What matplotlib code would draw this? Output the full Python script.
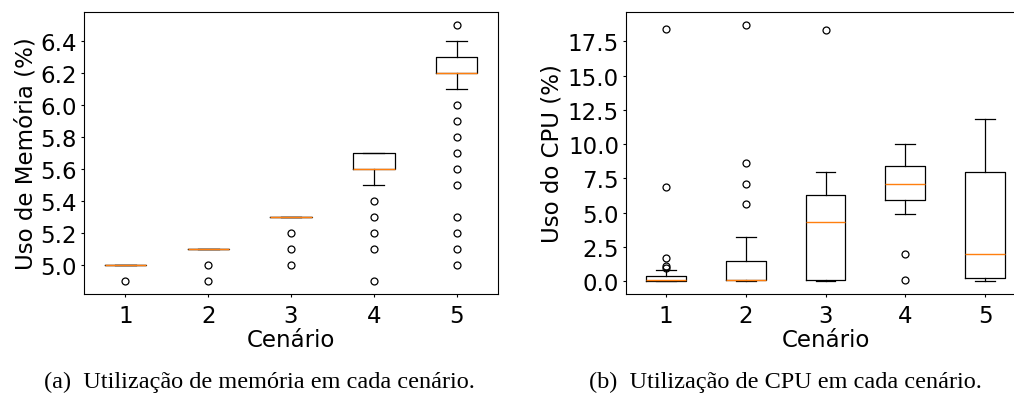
import matplotlib.pyplot as plt

# Cenarios
cenarios = ['1', '2', '3', '4', '5']

# Uso de memoria (%) - estatisticas das caixas
mem_q1 = [5.0, 5.1, 5.3, 5.6, 6.2]
mem_med = [5.0, 5.1, 5.3, 5.6, 6.2]
mem_q3 = [5.0, 5.1, 5.3, 5.7, 6.3]
mem_whislo = [5.0, 5.1, 5.3, 5.5, 6.1]
mem_whishi = [5.0, 5.1, 5.3, 5.7, 6.4]
mem_fliers = [
    [4.9],
    [5.0, 4.9],
    [5.2, 5.1, 5.0],
    [5.4, 5.3, 5.2, 5.1, 4.9],
    [6.5, 6.0, 5.9, 5.8, 5.7, 5.6, 5.5, 5.3, 5.2, 5.1, 5.0],
]

# Uso de CPU (%)
cpu_q1 = [0.0, 0.05, 0.1, 5.9, 0.2]
cpu_med = [0.1, 0.1, 4.3, 7.1, 2.0]
cpu_q3 = [0.35, 1.5, 6.3, 8.4, 8.0]
cpu_whislo = [0.0, 0.0, 0.0, 4.9, 0.0]
cpu_whishi = [0.8, 3.2, 8.0, 10.0, 11.8]
cpu_fliers = [
    [18.4, 6.9, 1.7, 1.1, 0.95],
    [18.7, 8.6, 7.1, 5.6],
    [18.3],
    [2.0, 0.1],
    [],
]


def stats(q1, med, q3, lo, hi, fl):
    return [dict(q1=a, med=b, q3=c, whislo=d, whishi=e, fliers=f, label=l)
            for a, b, c, d, e, f, l in zip(q1, med, q3, lo, hi, fl, cenarios)]


plt.rcParams['font.size'] = 16.5
plt.rcParams['axes.linewidth'] = 0.8

fig = plt.figure(figsize=(10.14, 4.10), dpi=100)
ax1 = fig.add_axes([84 / 1014, 1 - 295 / 410, 414 / 1014, 282 / 410])
ax2 = fig.add_axes([626 / 1014, 1 - 295 / 410, 399 / 1014, 282 / 410])

estilo = dict(
    boxprops=dict(linewidth=0.9),
    whiskerprops=dict(linewidth=0.9),
    capprops=dict(linewidth=0.9),
    medianprops=dict(linewidth=1.0, color='C1'),
    flierprops=dict(marker='o', markersize=5, markerfacecolor='none',
                    markeredgewidth=0.9),
)

ax1.bxp(stats(mem_q1, mem_med, mem_q3, mem_whislo, mem_whishi, mem_fliers),
        **estilo)
ax2.bxp(stats(cpu_q1, cpu_med, cpu_q3, cpu_whislo, cpu_whishi, cpu_fliers),
        **estilo)

for ax in (ax1, ax2):
    ax.set_xlabel('Cenário', labelpad=1)
    ax.tick_params(length=2.5, width=0.8, pad=2.5)
    ax.tick_params(axis='x', pad=4.5)

ax1.set_ylabel('Uso de Memória (%)', labelpad=2)
ax2.set_ylabel('Uso do CPU (%)', labelpad=3)
ax1.set_yticks([5.0, 5.2, 5.4, 5.6, 5.8, 6.0, 6.2, 6.4])
ax2.set_yticks([0, 2.5, 5, 7.5, 10, 12.5, 15, 17.5])
ax2.yaxis.set_major_formatter(plt.FormatStrFormatter('%.1f'))

# Legendas das subfiguras
fig.text(259 / 1014, 1 - 382 / 410, '(a)  Utilização de memória em cada cenário.',
         ha='center', va='center', family='Liberation Serif', fontsize=17.5)
fig.text(785 / 1014, 1 - 382 / 410, '(b)  Utilização de CPU em cada cenário.',
         ha='center', va='center', family='Liberation Serif', fontsize=17.5)

fig.savefig('out.png', dpi=100)
